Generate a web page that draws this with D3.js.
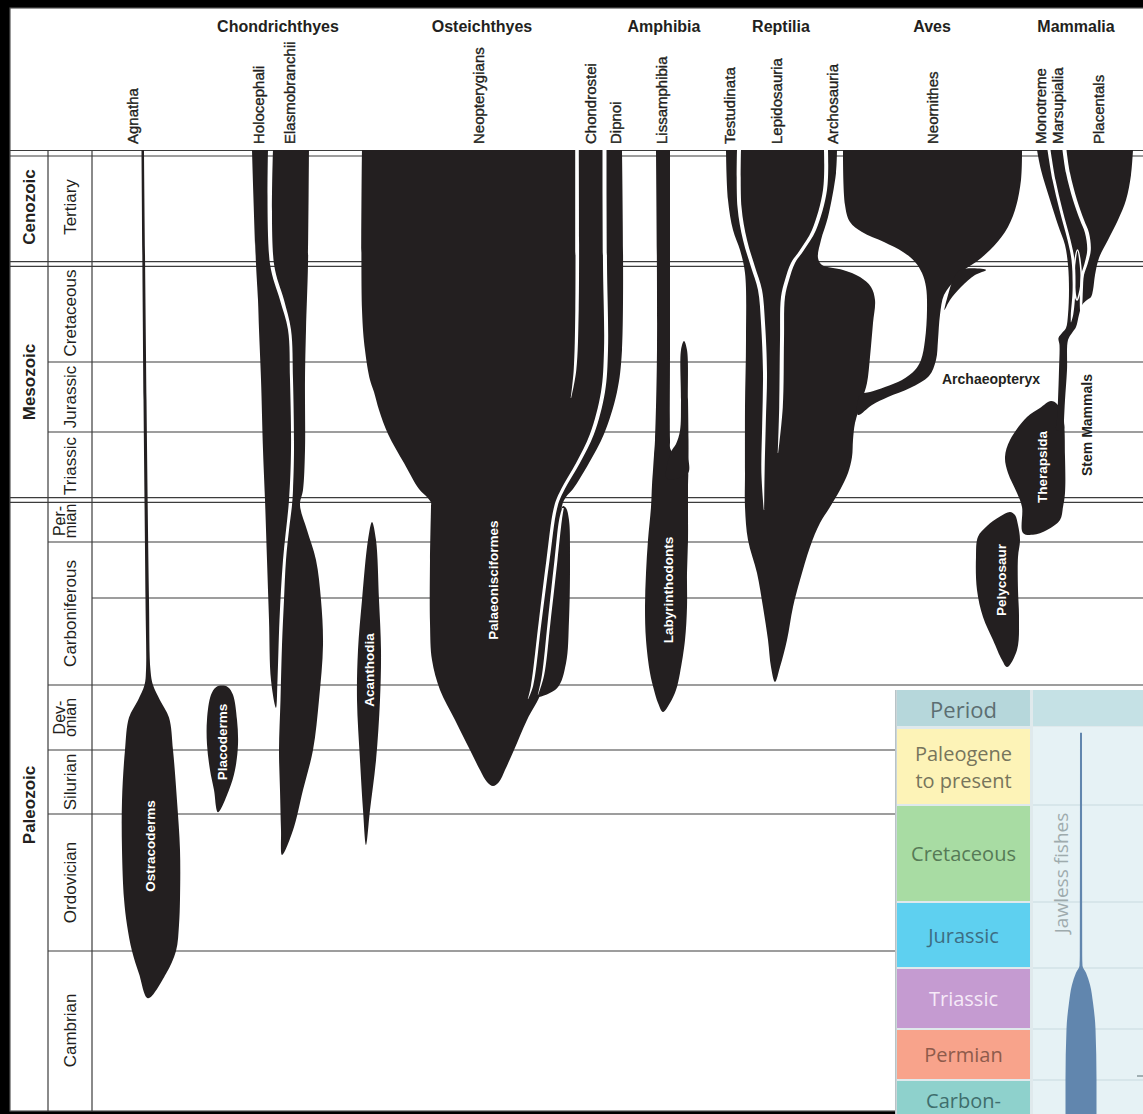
<!DOCTYPE html>
<html>
<head>
<meta charset="utf-8">
<script src="https://cdn.jsdelivr.net/npm/d3@7"></script>
<style>
  body { margin: 0; background: #000; }
  svg { display: block; }
</style>
</head>
<body>
<svg id="chart" width="1143" height="1114"></svg>
<script>
// ---------------- geologic time scale (Ma) ----------------
const boundaryAges = [0, 66, 145, 201, 252, 299, 323, 359, 419, 443, 485, 541];
const eras = ["Cenozoic", "Mesozoic", "Paleozoic"];
const eraSpans = [[0, 66], [66, 252], [252, 541]];
const periods = ["Tertiary", "Cretaceous", "Jurassic", "Triassic", "Per-|mian",
                 "Carboniferous", "Dev-|onian", "Silurian", "Ordovician", "Cambrian"];
const periodSpans = [[0, 66], [66, 145], [145, 201], [201, 252], [252, 299],
                     [299, 359], [359, 419], [419, 443], [443, 485], [485, 541]];
const stageBreaks = [323];

// ---------------- clade headers ----------------
const groups = ["Chondrichthyes", "Osteichthyes", "Amphibia", "Reptilia", "Aves", "Mammalia"];
const groupLane = [278, 482, 664, 781, 932, 1076];
const clades = ["Agnatha", "Holocephali", "Elasmobranchii", "Neopterygians", "Chondrostei", "Dipnoi",
                "Lissamphibia", "Testudinata", "Lepidosauria", "Archosauria", "Neornithes",
                "Monotreme", "Marsupialia", "Placentals"];
const cladeLane = [132, 258, 289, 478, 590, 615, 661, 729, 776, 832, 932, 1040, 1057, 1098];

// ---------------- lineage outlines: [age Ma, lateral position] ----------------
// Agnatha / Ostracoderms
const agnathaA = [[0,141.5],[175,143.5],[324,145.5],[353,146],[359,144.5],[373,138],[389,129],[419,125],[438,122],[454,122],[469,124],[477,127],[485,132],[493,139],[501.6,148]];
const agnathaB = [[0,144],[175,146.5],[324,149],[353,150.5],[359,153],[373,160],[389,169],[419,173],[438,177],[454,180],[469,180],[477,179],[485,176],[493,166]];
// Placoderms
const placodermA = [[359.5,222],[361,216],[368,211],[391,207],[414,207],[426.5,210],[434,214],[442.3,218]];
const placodermB = [[361,228],[368,233],[391,237],[414,238],[426.5,235],[434,229]];
// Holocephali
const holoA = [[0,252],[66,256],[95,258],[119,259],[159,261],[214.5,263],[252,265],[306.7,267],[332,269],[357,271],[380,276]];
const holoB = [[0,268],[66,270],[95,280],[119,288],[159,290],[214.5,291],[252,289],[306.7,283],[332,279.5],[357,277.5]];
// Elasmobranchii
const elasmoA = [[0,273],[66,274],[95,284],[119,291],[159,293],[214.5,294],[244.5,293],[257.6,292],[285.6,289],[306.7,286],[323.8,284],[342.4,282],[372.8,280.5],[419,279],[434,280],[448,281],[455.6,282]];
const elasmoB = [[0,309],[66,308],[119,306],[159,305],[214.5,305],[244.5,303],[257.6,300],[285.6,307],[306.7,316],[323.8,321],[342.4,323],[372.8,319],[419,313],[434,303],[448,293]];
// Acanthodia
const acanthA = [[276.6,372],[296.8,368],[323.8,362],[344.5,358],[372.8,357],[422.8,360],[441.5,363],[452.5,366]];
const acanthB = [[296.8,376],[323.8,379],[344.5,381],[372.8,380],[422.8,376],[441.5,370]];
// Osteichthyes (Neopterygians, Chondrostei, Dipnoi, Palaeonisciformes)
const osteA = [[0,362],[103,362],[135.3,365],[159.4,370],[169,374],[183.4,379],[202.5,388],[224.3,404],[243.8,419],[249.8,427],[255,431],[258.7,431],[306.7,430],[333.3,430],[348.7,432],[363.6,440],[391.3,455],[419,470],[426.5,480],[431,487],[432.5,493]];
const osteB = [[0,622],[135.3,622],[169,617],[202.5,604],[224.3,589],[243.8,573],[249.8,566],[258.7,562],[306.7,558],[333.3,551],[363.6,542],[391.3,527],[419,514],[426.5,505],[431,499]];
const sarcoA = [[258.7,563],[274.4,559],[306.7,557],[332.1,550],[350,545],[362,540],[370,536]];
const sarcoB = [[261,566],[274.4,569],[306.7,570],[332.1,569],[350,566],[362,557]];
// Amphibia
const amphA = [[0,656],[135,657],[207,655],[218.3,654],[229.5,653],[240.8,652],[259.8,651],[296.8,648],[312.3,646],[326.7,645],[340.4,646],[354,650],[363.6,654],[375.6,658],[383.9,663]];
const amphB = [[0,670],[135,670],[207,670],[214,670.5],[218.3,676],[222,685],[229.5,688],[240.8,688],[259.8,688],[296.8,688],[312.3,687],[326.7,687],[340.4,685],[354,680],[363.6,676],[375.6,670]];
const amphSpikeA = [[128.1,684],[135.3,681],[175.4,681],[200,680],[210,676],[216,671],[236,667]];
const amphSpikeB = [[135.3,687],[175.4,688],[207,688.5],[220,688.5],[232,688]];
// Reptilia
const reptA = [[0,726],[28.9,728],[46.3,733],[57.9,740],[73.3,745],[127.3,746],[181,745],[231.8,745],[259.8,745],[296.8,748],[312.3,757],[326.7,763],[340.4,768],[351.6,771],[357.8,775]];
const reptB = [[0,837],[13.3,836],[38.8,828],[52.1,821],[62.5,818],[66.8,822],[70.8,843],[76.5,860],[84.5,871],[95,875],[113.6,873],[141,870],[161.8,867],[175.4,862],[193.8,855],[207,853],[219.8,852],[231.8,848],[244.5,840],[259.8,830],[277.7,820],[301.1,810],[315.3,800],[326.7,793],[340.4,787],[351.6,780]];
// Aves (Neornithes with the Archaeopteryx branch)
const avesA = [[0,843],[31.8,845],[41.7,850],[47.5,862],[53.3,884],[59,903],[64.8,915],[73.3,922],[84.5,926],[103,927],[127.3,925],[143.4,921],[151.4,915],[159.4,902],[165,885],[169,870],[171.4,860]];
const avesB = [[0,1022],[17.4,1021],[34.7,1015],[47.5,1005],[57.9,990],[64.8,976],[70.8,964],[78.9,955],[91,944],[107,940],[127.3,938],[143.4,936],[156.2,929],[165.8,910],[173,888],[179.4,872],[187.4,858]];
const avesSpurA = [[70.8,960],[78.9,953],[91,948],[103,944.5]];
const avesSpurB = [[70.8,986],[74.9,975],[84.5,961],[95,950]];
// Mammalia and synapsid stem
const mammA = [[0,1037],[11.6,1041],[28.9,1050],[43.4,1058],[55,1065],[66.8,1068],[87,1069],[107,1068],[117.6,1066],[121.6,1062],[125.6,1058.5],[131.3,1059.5],[151.4,1059],[175.4,1058],[191.4,1057],[199.4,1056.5]];
const mammB = [[0,1133],[14.5,1131],[28.9,1126],[40.5,1118],[52.1,1108],[62.5,1099],[74.9,1095],[87,1093],[92.6,1091],[95,1087],[99,1082],[107,1079],[116.8,1076],[121.6,1072],[127.3,1068],[151.4,1067],[175.4,1065],[191.4,1064],[199.4,1063.5]];
const mammLensA = [[57.9,1077.5],[66.8,1074.5],[83,1074],[95,1077]];
const mammLensB = [[66.8,1080.5],[83,1081]];
const therapA = [[176.2,1051],[181.8,1040],[189,1027],[207,1010],[219.8,1005],[231.8,1008],[246.8,1017],[259.8,1022],[288.9,1023]];
const therapB = [[178.6,1057],[189,1063],[219.8,1065],[246.8,1065],[259.8,1063],[274.4,1060],[285.6,1047],[291,1033]];
const pelycoA = [[265.4,1010],[270.5,1000],[281,987],[293,978],[305.4,976],[319.6,977],[330.9,983],[340.4,993],[348.7,1002],[351.6,1007]];
const pelycoB = [[268.8,1015],[280,1018],[296.8,1020],[305.4,1018],[319.6,1018],[330.9,1019],[344.5,1017]];

// ---------------- lineage splits (white gaps): [age Ma, position, half-width] ----------------
const gapNeoChondro = [[0,577,1.8],[103,577,1.7],[151.4,575,1.3],[173.8,571,0.2]];
const gapChondroDipnoi = [[0,604.5,2],[66,605,2],[135.3,606,2],[169,603,2],[202.5,592,2],[224.3,578,1.9],[243.8,563,1.8],[258.7,556,1.7],[306.7,548,1.6],[333.3,540,1.4],[360,532,1.1],[372,528,0.2]];
const gapDipnoiSarco = [[261,563,0.8],[274.4,560.5,1.4],[306.7,556,1.5],[333.3,549,1.4],[355,543,1.1],[368,538,0.2]];
const gapTestLepi = [[0,739,2],[33,739.5,2],[52.1,745,2],[68.4,753,2],[87,760,2],[113.6,763,2],[153.8,765,2],[193.8,764,1.8],[231.8,763,1.6],[263.2,764,0.2]];
const gapLepiArch = [[0,826,2],[23.2,825,2],[46.3,814,2],[57.9,802,2],[65.4,793,2],[78.9,787,2],[92.6,783,2],[127.3,782,2],[181,781,1.8],[216.8,778,0.2]];
const gapMonoMars = [[0,1049,1.5],[17.4,1054,1.5],[34.7,1061,1.5],[52.1,1069,1.5],[63.7,1073,1.5],[87,1074,1.4],[107,1072,1.2],[113,1071,0.2]];
const gapMarsPlac = [[0,1064.5,2],[13.3,1068,2],[28.9,1075,2],[40.5,1082,2],[48,1087,2],[57.9,1089,1.8],[66,1086,1.6],[74.9,1082.5,1.5],[87,1081.5,1.4],[99,1081,1.2],[107,1080.5,0.2]];

// ---------------- inset: modern diversity panel ----------------
const insetPeriods = ["Paleogene|to present", "Cretaceous", "Jurassic", "Triassic", "Permian", "Carbon-"];
const insetSpans = [[0, 66], [66, 145], [145, 201], [201, 252], [252, 299], [299, 359]];
const jawlessAges = [4, 190, 199, 205, 215, 230, 252, 299, 330];
const jawlessWidth = [1, 1.2, 1.5, 5, 9, 12, 14.5, 15.5, 15.5];

// ---------------- layout & style ----------------
const W = 1143, H = 1114;
const frameLeft = 10, frameTop = 8, frameBottom = 1111;
const colEra = 48, colPeriod = 92;
const boundaryY = [150, 264, 362, 432, 500, 542, 598, 685, 750, 814, 951, 1110];
const INK = "#231f20";
const GRID = "#3c3c3c";
const FONT = "'Liberation Sans', Arial, Helvetica, sans-serif";

const y = d3.scaleLinear().domain(boundaryAges).range(boundaryY);
const x = d3.scaleLinear().domain([0, W]).range([0, W]);

const svg = d3.select("#chart");

// page and frame
svg.append("rect").attr("width", W).attr("height", H).attr("fill", "#000");
svg.append("rect").attr("x", frameLeft).attr("y", frameTop)
  .attr("width", W - frameLeft + 5).attr("height", frameBottom - frameTop)
  .attr("fill", "#fff").attr("stroke", "#555").attr("stroke-width", 1.2);

// ---------------- grid ----------------
const grid = svg.append("g").attr("stroke", GRID).attr("stroke-width", 1.2).attr("fill", "none");
const hline = (yy, x0) => grid.append("line").attr("x1", x0).attr("x2", W).attr("y1", yy).attr("y2", yy);
hline(y(0) + 0.5, frameLeft);
hline(y(0) + 6, frameLeft);
[66, 252].forEach(a => { hline(y(a) - 2.3, frameLeft); hline(y(a) + 2.3, frameLeft); });
periodSpans.slice(0, -1).forEach(s => { if (s[1] !== 66 && s[1] !== 252) hline(y(s[1]), colEra); });
stageBreaks.forEach(a => hline(y(a), colPeriod));
[colEra, colPeriod].forEach(cx =>
  grid.append("line").attr("x1", cx).attr("x2", cx).attr("y1", y(0)).attr("y2", frameBottom));

// ---------------- era & period labels ----------------
const eraG = svg.append("g").attr("font-family", FONT).attr("fill", INK);
eras.forEach((e, i) => {
  const cy = (y(eraSpans[i][0]) + y(eraSpans[i][1])) / 2;
  eraG.append("text").attr("transform", `translate(29,${cy}) rotate(-90)`)
    .attr("text-anchor", "middle").attr("dominant-baseline", "central")
    .attr("font-size", 17).attr("font-weight", "bold").text(e);
});
periods.forEach((p, i) => {
  const cy = (y(periodSpans[i][0]) + y(periodSpans[i][1])) / 2;
  const parts = p.split("|");
  if (parts.length === 1) {
    eraG.append("text").attr("transform", `translate(70,${cy}) rotate(-90)`)
      .attr("text-anchor", "middle").attr("dominant-baseline", "central")
      .attr("font-size", 17).text(p);
  } else {
    parts.forEach((t, j) => {
      eraG.append("text").attr("transform", `translate(${65 + j * 10.5},${cy}) rotate(-90)`)
        .attr("text-anchor", "middle").attr("font-size", 16).text(t);
    });
  }
});

// ---------------- lineages ----------------
const pathLine = d3.line().x(p => x(p[1])).y(p => y(p[0]));
function outline(a, b, open) {
  const pts = a.concat(b.slice().reverse());
  if (open) return pathLine.curve(d3.curveCatmullRom.alpha(0.5))(pts) + "Z";
  return pathLine.curve(d3.curveCatmullRomClosed.alpha(0.5))(pts);
}
const lineages = [
  [agnathaA, agnathaB, true], [placodermA, placodermB, false],
  [holoA, holoB, true], [elasmoA, elasmoB, true], [acanthA, acanthB, false],
  [osteA, osteB, true], [sarcoA, sarcoB, false],
  [amphA, amphB, true], [amphSpikeA, amphSpikeB, false],
  [reptA, reptB, true], [avesA, avesB, true], [avesSpurA, avesSpurB, false],
  [therapA, therapB, false], [pelycoA, pelycoB, false], [mammA, mammB, true]
];
const marks = svg.append("g").attr("fill", INK);
lineages.forEach(([a, b, open]) => marks.append("path").attr("d", outline(a, b, open)));
marks.append("path").attr("d", outline(mammLensA, mammLensB, false))
  .attr("stroke", "#fff").attr("stroke-width", 1.6);

// white splits between sister lineages
const gapArea = d3.area()
  .y(d => y(d[0])).x0(d => x(d[1] - d[2])).x1(d => x(d[1] + d[2]))
  .curve(d3.curveCatmullRom.alpha(0.5));
const gaps = [gapNeoChondro, gapChondroDipnoi, gapDipnoiSarco, gapTestLepi, gapLepiArch, gapMonoMars, gapMarsPlac];
const gapG = svg.append("g").attr("fill", "#fff");
gaps.forEach(g => gapG.append("path").attr("d", gapArea(g)));

// ---------------- labels on lineages ----------------
const inLabels = [
  { t: "Ostracoderms", age: 452.8, pos: 150 },
  { t: "Placoderms", age: 411.6, pos: 222 },
  { t: "Acanthodia", age: 352.8, pos: 369 },
  { t: "Palaeonisciformes", age: 315.3, pos: 493 },
  { t: "Labyrinthodonts", age: 319.6, pos: 668 },
  { t: "Pelycosaur", age: 315.3, pos: 1001 },
  { t: "Therapsida", age: 227.3, pos: 1042 }
];
const labG = svg.append("g").attr("font-family", FONT).attr("font-weight", "bold").attr("font-size", 13.5);
inLabels.forEach(d => {
  labG.append("text").attr("transform", `translate(${x(d.pos)},${y(d.age)}) rotate(-90)`)
    .attr("text-anchor", "middle").attr("dominant-baseline", "central")
    .attr("fill", "#fff").text(d.t);
});
labG.append("text").attr("x", x(942)).attr("y", y(162.6)).attr("font-size", 14)
  .attr("fill", INK).text("Archaeopteryx");
labG.append("text").attr("transform", `translate(${x(1087)},${y(195.4)}) rotate(-90)`)
  .attr("text-anchor", "middle").attr("dominant-baseline", "central").attr("font-size", 14)
  .attr("fill", INK).text("Stem Mammals");

// ---------------- headers ----------------
const head = svg.append("g").attr("font-family", FONT).attr("fill", INK);
groups.forEach((g, i) => head.append("text").attr("x", x(groupLane[i])).attr("y", 32)
  .attr("text-anchor", "middle").attr("font-size", 16).attr("font-weight", "bold").text(g));
clades.forEach((c, i) => head.append("text")
  .attr("transform", `translate(${x(cladeLane[i])},144) rotate(-90)`)
  .attr("dominant-baseline", "central").attr("font-size", 15)
  .attr("stroke", INK).attr("stroke-width", 0.35).text(c));

// ---------------- inset panel ----------------
const inset = svg.append("g");
const ix0 = 897, ix1 = 1030, ix2 = 1033, iTop = 690, iHead = 727;
const iy = d3.scaleLinear().domain([0, 66, 145, 201, 252, 299, 359]).range([728, 805, 902, 968, 1029, 1080, 1180]);
const insetFill = ["#fdf3b7", "#a8dca3", "#5ed0f0", "#c59bd1", "#f8a38b", "#8ed1cc"];
const insetInk = ["#77755c", "#567a56", "#3d6d83", "#f6eaf8", "#8e5b4b", "#3f6e6c"];
inset.append("rect").attr("x", ix0 - 2).attr("y", iTop).attr("width", W - ix0 + 2).attr("height", H - iTop)
  .attr("fill", "#dfe9ec");
inset.append("rect").attr("x", ix0 - 2).attr("y", iTop).attr("width", 1.5).attr("height", H - iTop)
  .attr("fill", "#b9c3c6");
inset.append("rect").attr("x", ix0).attr("y", iTop).attr("width", ix1 - ix0).attr("height", iHead - iTop - 1)
  .attr("fill", "#b6d7db");
inset.append("rect").attr("x", ix2).attr("y", iTop).attr("width", W - ix2).attr("height", iHead - iTop - 1)
  .attr("fill", "#c5e1e5");
inset.append("rect").attr("x", ix2).attr("y", iHead).attr("width", W - ix2).attr("height", H - iHead)
  .attr("fill", "#e6f2f5");
insetSpans.forEach((s, i) => {
  inset.append("rect").attr("x", ix0).attr("y", iy(s[0]) + 1)
    .attr("width", ix1 - ix0).attr("height", iy(s[1]) - iy(s[0]) - 2).attr("fill", insetFill[i]);
  inset.append("line").attr("x1", ix2).attr("x2", W).attr("y1", iy(s[1])).attr("y2", iy(s[1]))
    .attr("stroke", "#d2e2e6").attr("stroke-width", 1.5);
  const parts = insetPeriods[i].split("|");
  const cy = Math.min((iy(s[0]) + iy(s[1])) / 2, H - 14);
  parts.forEach((t, j) => inset.append("text")
    .attr("x", (ix0 + ix1) / 2).attr("y", cy + (j - (parts.length - 1) / 2) * 27)
    .attr("text-anchor", "middle").attr("dominant-baseline", "central")
    .attr("font-family", "'Open Sans', 'Noto Sans', sans-serif").attr("font-size", 20)
    .attr("fill", insetInk[i]).text(t));
});
inset.append("text").attr("x", (ix0 + ix1) / 2).attr("y", (iTop + iHead) / 2)
  .attr("text-anchor", "middle").attr("dominant-baseline", "central")
  .attr("font-family", "'Open Sans', 'Noto Sans', sans-serif").attr("font-size", 22)
  .attr("fill", "#5c6e72").text("Period");
const jawless = jawlessAges.map((a, i) => [a, jawlessWidth[i]]);
inset.append("path")
  .attr("d", d3.area().y(d => iy(d[0])).x0(d => 1081 - d[1]).x1(d => 1081 + d[1])
    .curve(d3.curveMonotoneY)(jawless))
  .attr("fill", "#6186ae");
inset.append("text").attr("transform", `translate(1061,873) rotate(-90)`)
  .attr("text-anchor", "middle").attr("dominant-baseline", "central")
  .attr("font-family", "'Open Sans', 'Noto Sans', sans-serif").attr("font-size", 19)
  .attr("fill", "#9eabad").text("Jawless fishes");
inset.append("line").attr("x1", 1137).attr("x2", 1143).attr("y1", 1076).attr("y2", 1076)
  .attr("stroke", "#8a9a9c").attr("stroke-width", 1.5);
</script>
</body>
</html>
